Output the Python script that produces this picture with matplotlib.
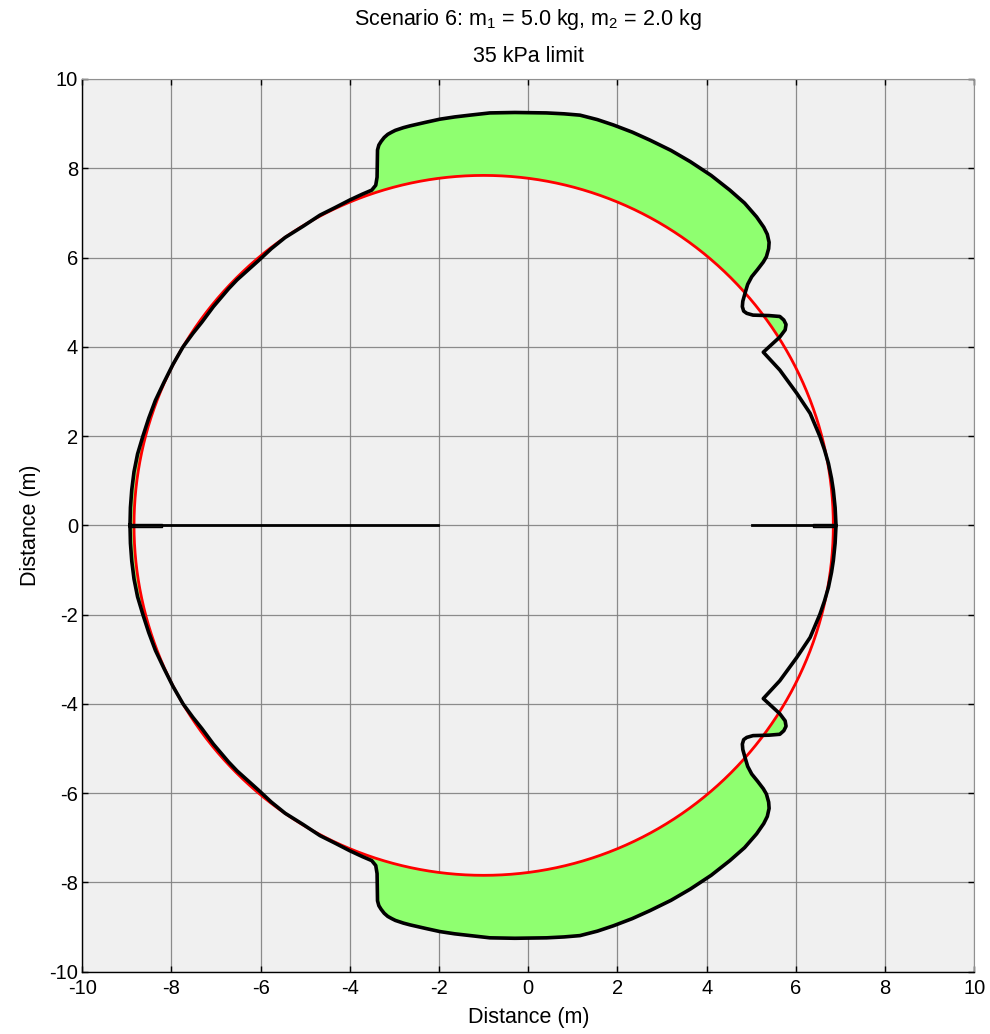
import numpy as np
import matplotlib
matplotlib.use("Agg")
import matplotlib.pyplot as plt
from matplotlib.path import Path
from matplotlib.patches import Polygon

plt.rcParams['font.family'] = ['Liberation Sans', 'DejaVu Sans']
plt.rcParams['mathtext.fontset'] = 'custom'
plt.rcParams['mathtext.rm'] = 'Liberation Sans'
plt.rcParams['mathtext.it'] = 'Liberation Sans'
plt.rcParams['axes.unicode_minus'] = False

# ---- data ----
# upper half of the black pressure contour (mirrored about y = 0)
contour_x = [-8.93, -8.92, -8.89, -8.84, -8.76, -8.64, -8.51, -8.36, -8.17, -7.97,
             -7.74, -7.52, -7.32, -7.06, -6.72, -6.53, -6.05, -5.76,
             -5.45, -5.05, -4.67, -4.33, -4.00, -3.72, -3.51, -3.42, -3.39, -3.38,
             -3.35, -3.30, -3.23, -3.15, -3.06, -2.98, -2.80, -2.65, -2.30, -1.98,
             -1.65, -1.31, -0.86, -0.30, 0.41, 0.80, 1.16, 1.55, 1.91, 2.33,
             2.73, 3.20, 3.63, 4.10, 4.52, 4.85, 5.12, 5.28, 5.36, 5.40,
             5.39, 5.34, 5.27, 5.14, 5.01, 4.92, 4.86, 4.81, 4.80, 4.83,
             4.90, 5.04, 5.40, 5.64, 5.73, 5.78, 5.76, 5.64, 5.27, 5.64,
             6.02, 6.32, 6.43, 6.54, 6.64, 6.73, 6.80, 6.84, 6.88, 6.90]
contour_y = [0.00, 0.40, 0.80, 1.20, 1.60, 2.00, 2.40, 2.80, 3.20, 3.60,
             4.00, 4.30, 4.55, 4.90, 5.30, 5.50, 5.93, 6.20,
             6.45, 6.70, 6.95, 7.12, 7.29, 7.42, 7.51, 7.62, 7.80, 8.41,
             8.52, 8.60, 8.69, 8.76, 8.81, 8.85, 8.91, 8.95, 9.03, 9.10,
             9.15, 9.19, 9.24, 9.25, 9.24, 9.22, 9.19, 9.09, 8.97, 8.81,
             8.63, 8.40, 8.15, 7.84, 7.51, 7.22, 6.91, 6.68, 6.52, 6.34,
             6.20, 6.02, 5.90, 5.73, 5.57, 5.40, 5.20, 5.02, 4.90, 4.80,
             4.75, 4.71, 4.70, 4.68, 4.60, 4.50, 4.38, 4.22, 3.88, 3.48,
             2.96, 2.51, 2.25, 1.99, 1.70, 1.39, 1.05, 0.79, 0.40, 0.00]

# limit circle (red)
circle_cx, circle_cy, circle_r = -1.0, 0.0, 7.84

# horizontal axis lines with thin spikes
left_line_x = [-8.93, -2.02]
left_spike_x = [-8.95, -8.22]
right_line_x = [5.01, 6.90]
right_spike_x = [6.39, 6.90]
spike_half = 0.04

ticks = list(range(-10, 11, 2))

# ---- figure ----
fig = plt.figure(figsize=(9.9, 10.34), dpi=100)
ax = fig.add_axes([0.0831, 0.0602, 0.9010, 0.8634])
ax.set_facecolor('#f0f0f0')

cx = np.array(contour_x)
cy = np.array(contour_y)
full_x = np.concatenate([cx, cx[::-1][1:]])
full_y = np.concatenate([cy, -cy[::-1][1:]])

theta = np.linspace(0, 2 * np.pi, 721)
circ_x = circle_cx + circle_r * np.cos(theta)
circ_y = circle_cy + circle_r * np.sin(theta)

# green region: inside contour but outside circle
rect = [(-30, -30), (30, -30), (30, 30), (-30, 30), (-30, -30)]
cverts = list(zip(circ_x[::-1], circ_y[::-1]))
verts = rect + cverts
codes = ([Path.MOVETO] + [Path.LINETO] * 3 + [Path.CLOSEPOLY] +
         [Path.MOVETO] + [Path.LINETO] * (len(cverts) - 2) + [Path.CLOSEPOLY])
clip = Path(verts, codes)
green = Polygon(np.column_stack([full_x, full_y]), closed=True,
                facecolor='#8fff70', edgecolor='none', zorder=1)
ax.add_patch(green)
green.set_clip_path(clip, ax.transData)

ax.plot(circ_x, circ_y, color='#ff0000', lw=2.0, zorder=2)
ax.plot(np.append(full_x, full_x[0]), np.append(full_y, full_y[0]),
        color='black', lw=2.6, zorder=3, solid_joinstyle='round')

ax.plot(left_line_x, [0, 0], color='black', lw=2.0, zorder=3)
ax.plot([left_spike_x[0], left_spike_x[1], left_spike_x[1], left_spike_x[0]],
        [spike_half, spike_half, -spike_half, -spike_half], color='black', lw=1.0, zorder=3)
ax.plot(right_line_x, [0, 0], color='black', lw=2.0, zorder=3)
ax.plot([right_spike_x[1], right_spike_x[0], right_spike_x[0], right_spike_x[1]],
        [spike_half, spike_half, -spike_half, -spike_half], color='black', lw=1.0, zorder=3)

ax.set_xlim(-10, 10)
ax.set_ylim(-10, 10)
ax.set_xticks(ticks)
ax.set_yticks(ticks)
ax.set_axisbelow(True)
ax.grid(True, color='#808080', lw=0.9, alpha=0.9)
for s in ['top', 'right']:
    ax.spines[s].set_color('#909090')
for s in ['left', 'bottom']:
    ax.spines[s].set_color('black')
    ax.spines[s].set_linewidth(1.0)
ax.tick_params(direction='in', length=4, width=1.0, labelsize=14.5,
               top=True, right=True, colors='black')
ax.tick_params(axis='x', pad=5)
ax.tick_params(axis='y', pad=3)

ax.set_xlabel('Distance (m)', fontsize=15.5, labelpad=7)
ax.set_ylabel('Distance (m)', fontsize=15.5, labelpad=6)

xc = 0.0831 + 0.9010 / 2
fig.text(xc, 1 - 20 / 1034, r'Scenario 6: m$_1$ = 5.0 kg, m$_2$ = 2.0 kg',
         ha='center', va='center', fontsize=15.5)
fig.text(xc, 1 - 57 / 1034, '35 kPa limit', ha='center', va='center', fontsize=15.5)

fig.savefig('out.png', dpi=100, facecolor='white')
